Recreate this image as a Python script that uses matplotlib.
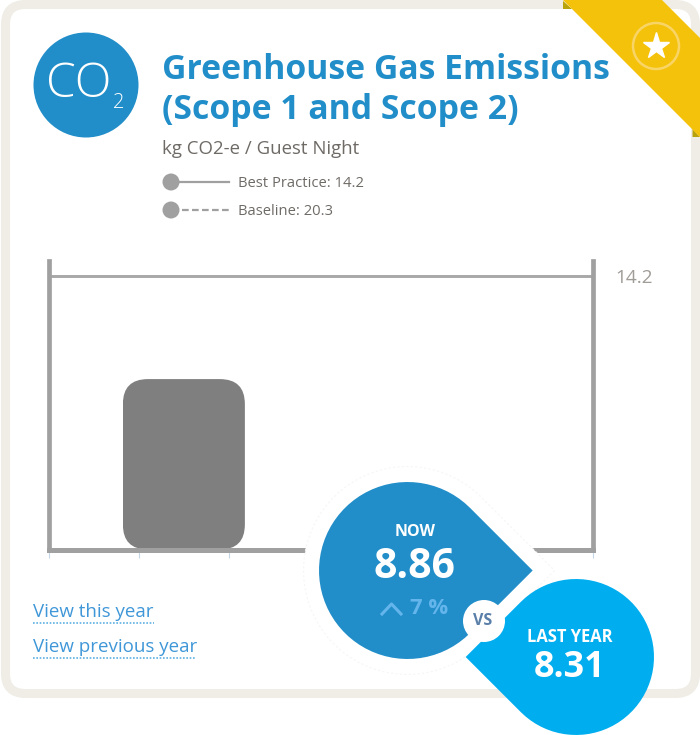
import numpy as np
import matplotlib
matplotlib.use("Agg")
import matplotlib.pyplot as plt
from matplotlib.patches import Circle, FancyBboxPatch, PathPatch, Polygon
from matplotlib.path import Path

# data
title_lines = ["Greenhouse Gas Emissions", "(Scope 1 and Scope 2)"]
unit_label = "kg CO2-e / Guest Night"
best_practice = 14.2
baseline = 20.3
bar_slots = [1.5]
bar_values = [8.86]
now_value = 8.86
last_year_value = 8.31
change_pct = 7
x_ticks = [0, 1, 2, 3, 4, 5, 6.05]
links = ["View this year", "View previous year"]

FONT = "Open Sans"
BLUE = "#218ec9"
SKY = "#00aeef"
GREY = "#a0a0a0"
W, H = 700, 735

fig = plt.figure(figsize=(7, 7.35), dpi=100, facecolor="white")


def px_axes(z):
    a = fig.add_axes([0, 0, 1, 1], zorder=z)
    a.set_xlim(0, W)
    a.set_ylim(H, 0)
    a.axis("off")
    a.patch.set_alpha(0)
    return a


def px(size):
    return size * 0.72


def drop(cx, cy, r, direction):
    """Teardrop: a circle with one square corner pointing left or right."""
    t = np.radians(np.linspace(45, 315, 60))
    xs, ys = r * np.cos(t), r * np.sin(t)
    verts = [(r * np.sqrt(2), 0)] + list(zip(xs, ys)) + [(r * np.sqrt(2), 0)]
    verts = np.array(verts)
    verts[:, 0] = cx + direction * verts[:, 0]
    verts[:, 1] += cy
    return Path(verts)


back = px_axes(0)
back.add_patch(FancyBboxPatch((5.5, 4.5), 690, 689, boxstyle="round,pad=0,rounding_size=20",
                              fc="white", ec="#f0ede6", lw=6.5))

# chart
YTOP = 15.0
ax = fig.add_axes([49 / W, 1 - 549.5 / H, 544 / W, (549.5 - 261) / H], zorder=1)
ax.patch.set_alpha(0)
ax.set_xlim(0, 6.05)
ax.set_ylim(0, YTOP)
ax.spines["top"].set_visible(False)
for s in ("left", "right"):
    ax.spines[s].set_color(GREY)
    ax.spines[s].set_linewidth(3.4)
ax.spines["bottom"].set_color(GREY)
ax.spines["bottom"].set_linewidth(3.6)
ax.set_yticks([])
ax.set_xticks(x_ticks)
ax.set_xticklabels([])
ax.tick_params(axis="x", length=5.5, width=0.8, color="#c5d6e6", pad=0)
ax.axhline(best_practice, color="#a8a8a8", lw=2.1, clip_on=False)
ax.annotate(f"{best_practice}", xy=(1.0, best_practice), xycoords=ax.get_yaxis_transform(),
            xytext=(22 * 0.72, -2 * 0.72), textcoords="offset points",
            va="center", ha="left", fontsize=px(19), color="#a09c98", family=FONT)
bars = ax.bar(bar_slots, bar_values, width=122 / (544 / 6.05), color="#7f7f7f", zorder=1)
aspect = (YTOP / 288.5) / (6.05 / 544)
for b in bars:
    rounded = FancyBboxPatch((b.get_x(), b.get_y()), b.get_width(), b.get_height(),
                             boxstyle=f"round,pad=0,rounding_size={25 * 6.05 / 544}",
                             mutation_aspect=aspect, transform=ax.transData)
    b.set_clip_path(rounded)

top = px_axes(2)

# ribbon
top.add_patch(Polygon([(563, 0), (662, 0), (700, 38), (700, 137)], closed=True, fc="#f5c20b", ec="none", zorder=3))
top.add_patch(Polygon([(563, 1), (572, 9), (563, 9)], closed=True, fc="#b9a30d", ec="none", zorder=2))
top.add_patch(Polygon([(692.5, 129), (700, 137), (692.5, 137)], closed=True, fc="#b9a30d", ec="none", zorder=2))
top.add_patch(Circle((656, 46), 23, fc="none", ec="#f8d566", lw=1.8, zorder=4))
top.plot([656], [45.5], marker="*", ms=20, mfc="white", mec="white", zorder=5)

# CO2 icon
top.add_patch(Circle((86, 85), 52.5, fc=BLUE, ec="none"))
top.text(78.5, 85, "CO", ha="center", va="center", fontsize=px(48), color="white", family="Open Sans", weight="light")
top.text(119, 103, "2", ha="center", va="center", fontsize=px(20), color="white", family="Open Sans", weight="light")

# heading
for line, y in zip(title_lines, (70, 110)):
    top.text(162, y, line, ha="left", va="center", fontsize=px(33.8), color=BLUE, family=FONT, weight="bold")
top.text(162, 149, unit_label, ha="left", va="center", fontsize=px(18.6), color="#6e6a66", family=FONT)

# legend
for y, ls, txt in ((182, "-", f"Best Practice: {best_practice}"), (210, (0, (3, 1.5)), f"Baseline: {baseline}")):
    top.plot([172, 229], [y, y], color=GREY, lw=1.6, ls=ls)
    top.add_patch(Circle((171, y), 8.5, fc=GREY, ec="none"))
    top.text(238, y + 1, txt, ha="left", va="center", fontsize=px(14.8), color="#6e6a66", family=FONT)

# links
for txt, y, x1 in zip(links, (612, 647), (154, 196)):
    top.text(33, y, txt, ha="left", va="center", fontsize=px(18.8), color="#3f97d8", family=FONT)
    top.plot([33, x1], [y + 11, y + 11], color="#5cb0e4", lw=1.2, ls=(0, (1, 1)))

# comparison badges
top.add_patch(PathPatch(drop(407.5, 570.5, 104, 1), fc="white", ec="#f6f6f6", lw=0.8, ls=(0, (2, 2)), zorder=6))
top.add_patch(PathPatch(drop(407.5, 570.5, 88.5, 1), fc=BLUE, ec="none", zorder=7))
top.add_patch(PathPatch(drop(576, 657, 78, -1), fc=SKY, ec="none", zorder=7))
top.add_patch(Circle((484, 621), 21, fc="white", ec="none", zorder=8))
top.text(483, 621, "VS", ha="center", va="center", fontsize=px(16), color="#5a7fa8", family=FONT, weight="bold", zorder=9)
top.text(415, 532, "NOW", ha="center", va="center", fontsize=px(16), color="white", family=FONT, weight="bold", zorder=9)
top.text(414, 567, f"{now_value}", ha="center", va="center", fontsize=px(41), color="white", family=FONT, weight="bold", zorder=9)
top.plot([382, 391.5, 401], [614, 604, 614], color="#64b5ec", lw=2.2, zorder=9)
top.text(429, 608, f"{change_pct} %", ha="center", va="center", fontsize=px(22), color="#64b5ec", family=FONT, weight="bold", zorder=9)
top.text(570, 637, "LAST YEAR", ha="center", va="center", fontsize=px(16.5), color="white", family=FONT, weight="bold", zorder=9)
top.text(570, 668, f"{last_year_value}", ha="center", va="center", fontsize=px(36), color="white", family=FONT, weight="bold", zorder=9)

fig.savefig("out.png", dpi=100, facecolor="white")
